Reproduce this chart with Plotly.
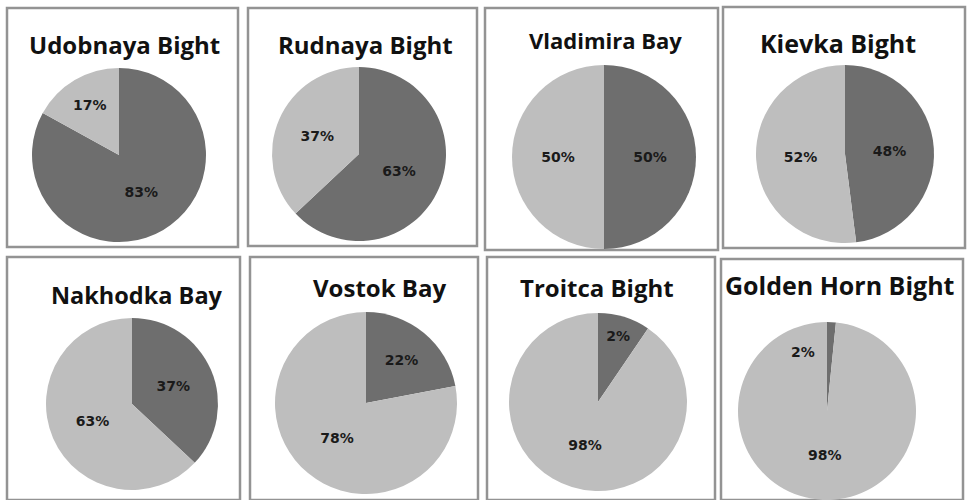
import plotly.graph_objects as go

W, H = 968, 500

# ---- data ----
titles = ["Udobnaya Bight", "Rudnaya Bight", "Vladimira Bay", "Kievka Bight",
          "Nakhodka Bay", "Vostok Bay", "Troitca Bight", "Golden Horn Bight"]
# share of the dark slice and of the light slice as drawn in each pie
dark_share = [83, 63, 50, 48, 37, 22, 9.5, 1.6]
light_share = [17, 37, 50, 52, 63, 78, 90.5, 98.4]
# printed labels
dark_label = ["83%", "63%", "50%", "48%", "37%", "22%", "2%", "2%"]
light_label = ["17%", "37%", "50%", "52%", "63%", "78%", "98%", "98%"]

# ---- layout (pixel geometry) ----
boxes = [(7, 8, 238, 247), (248, 8, 477, 246), (485, 8, 718, 250), (723, 7, 965, 248),
         (7, 257, 240, 500), (250, 257, 478, 500), (487, 257, 715, 500), (721, 259, 963, 500)]
pie_c = [(119, 155, 87), (359, 154, 87), (604, 157, 92), (845, 154, 89),
         (132, 404, 86), (366, 403, 91), (598, 402, 89), (827, 411, 89)]
title_pos = [(125, 45, 24), (365, 45, 24), (605, 40, 22), (838, 43, 25),
             (137, 295, 23.5), (379, 287, 24), (597, 287, 24), (840, 285, 25)]
# label placed outside the slice when the slice is too thin (pixel offset from pie centre)
thin_label_offset = {7: (-24, -59)}

DARK = "#6e6e6e"
LIGHT = "#bebebe"
LABEL_FONT = dict(family="DejaVu Sans", size=14, color="#1a1a1a", weight="bold")

fig = go.Figure()
shapes = []
annotations = []
for i in range(8):
    cx, cy, r = pie_c[i]
    x0, x1 = max(0, (cx - r) / W), min(1, (cx + r) / W)
    y0, y1 = max(0, 1 - (cy + r) / H), min(1, 1 - (cy - r) / H)
    texts = [dark_label[i], light_label[i]]
    if i in thin_label_offset:
        dx, dy = thin_label_offset[i]
        annotations.append(dict(text=dark_label[i], x=(cx + dx) / W, y=1 - (cy + dy) / H,
                                xref="paper", yref="paper", showarrow=False,
                                xanchor="center", yanchor="middle", font=LABEL_FONT))
        texts = ["", light_label[i]]
    fig.add_trace(go.Pie(
        values=[dark_share[i], light_share[i]],
        text=texts,
        textinfo="text",
        textposition="inside",
        insidetextorientation="horizontal",
        textfont=LABEL_FONT,
        marker=dict(colors=[DARK, LIGHT], line=dict(width=0)),
        sort=False, direction="clockwise", rotation=0,
        domain=dict(x=[x0, x1], y=[y0, y1]),
        showlegend=False, hoverinfo="skip",
    ))
    bx0, by0, bx1, by1 = boxes[i]
    shapes.append(dict(type="rect", xref="paper", yref="paper",
                       x0=bx0 / W, x1=bx1 / W, y0=1 - by1 / H, y1=1 - by0 / H,
                       line=dict(color="#939393", width=2.5), layer="below"))
    tx, ty, ts = title_pos[i]
    annotations.append(dict(text="<b>" + titles[i] + "</b>", x=tx / W, y=1 - ty / H,
                            xref="paper", yref="paper", showarrow=False,
                            xanchor="center", yanchor="middle",
                            font=dict(family="Open Sans", size=ts, color="#111111")))

fig.update_layout(width=W, height=H, margin=dict(l=0, r=0, t=0, b=0),
                  paper_bgcolor="white", plot_bgcolor="white",
                  shapes=shapes, annotations=annotations,
                  uniformtext=dict(minsize=10, mode="show"))
fig.write_html("out.html", config={"displayModeBar": False},
               post_script="document.body.style.margin='0';document.body.style.overflow='hidden';")
